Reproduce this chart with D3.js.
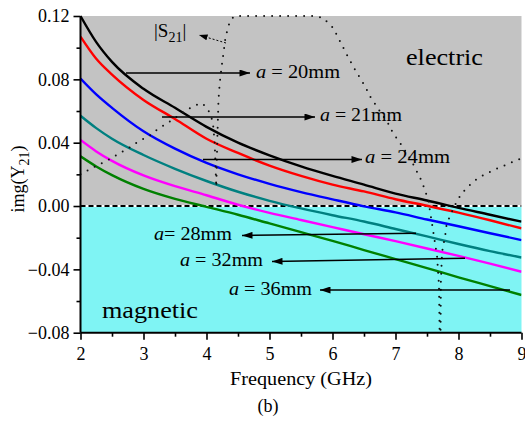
<!DOCTYPE html>
<html><head><meta charset="utf-8">
<script src="https://cdn.jsdelivr.net/npm/d3@7"></script>
<style>
html,body{margin:0;padding:0;background:#fff;}
svg{display:block;}
svg text{font-family:"Liberation Serif","Times New Roman",Times,"Nimbus Roman",serif !important;}
</style></head>
<body><svg id="c" width="525" height="422"></svg>
<script>
// ---- data ----
const freqs = [2, 2.25, 2.5, 3, 3.5, 4, 4.5, 5, 5.5, 6, 6.5, 7, 7.5, 8, 8.5, 9];
const a20 = [0.120, 0.1035, 0.091, 0.074, 0.062, 0.050, 0.040, 0.032, 0.025, 0.019, 0.0135, 0.0078, 0.0035, -0.0012, -0.0055, -0.0099];
const a21 = [0.107, 0.093, 0.083, 0.067, 0.055, 0.0425, 0.0335, 0.0255, 0.019, 0.0135, 0.0092, 0.0043, 0.0002, -0.0042, -0.009, -0.0141];
const a24 = [0.0805, 0.0705, 0.062, 0.0472, 0.0362, 0.0272, 0.020, 0.014, 0.0088, 0.0042, -0.0002, -0.004, -0.0085, -0.0128, -0.0172, -0.0215];
const a28 = [0.057, 0.0492, 0.0425, 0.0322, 0.0235, 0.0158, 0.009, 0.0033, -0.0015, -0.0058, -0.0098, -0.0145, -0.0192, -0.024, -0.0285, -0.0325];
const a32 = [0.0417, 0.0345, 0.0285, 0.0193, 0.0125, 0.0068, 0.0008, -0.0043, -0.0088, -0.0133, -0.0178, -0.0222, -0.0268, -0.0315, -0.0364, -0.0415];
const a36 = [0.0314, 0.025, 0.0195, 0.0108, 0.0045, -0.0005, -0.0055, -0.011, -0.0165, -0.022, -0.0278, -0.0335, -0.0392, -0.045, -0.0506, -0.0562];
const seriesNames = ["a = 20mm", "a = 21mm", "a = 24mm", "a= 28mm", "a = 32mm", "a = 36mm"];
const seriesColors = ["#000000", "#ff0000", "#0000ff", "#008080", "#ff00ff", "#008000"];

// |S21| (dotted) shown on the same axes, clipped at axis limits
const s21Freq = [2.0, 2.15, 2.31, 2.47, 2.62, 2.77, 2.93, 3.09, 3.23, 3.39, 3.55, 3.7, 3.85, 3.94, 4.04, 4.10, 4.13, 4.155, 4.17, 4.19, 4.21, 4.24, 4.27, 4.30, 4.34, 4.38, 4.45, 5.72, 5.85, 6.01, 6.12, 6.23, 6.36, 6.52, 6.6, 6.75, 6.88, 6.96, 7.12, 7.26, 7.42, 7.52, 7.57, 7.62, 7.66, 7.69, 7.70, 7.715, 7.72, 7.73, 7.74, 7.79, 7.81, 7.87, 7.97, 8.05, 8.18, 8.31, 8.47, 8.63, 8.79, 8.92, 9.0];
const s21Val  = [0.020, 0.0232, 0.0265, 0.0297, 0.0333, 0.0368, 0.0411, 0.0442, 0.0487, 0.0526, 0.057, 0.061, 0.064, 0.0649, 0.0596, 0.0533, 0.040, 0.012, 0.040, 0.067, 0.0777, 0.088, 0.0967, 0.106, 0.1125, 0.1175, 0.12, 0.12, 0.1188, 0.1125, 0.104, 0.0954, 0.0859, 0.0754, 0.069, 0.060, 0.0524, 0.0461, 0.037, 0.028, 0.0154, 0.0038, -0.0088, -0.0215, -0.032, -0.05, -0.08, -0.08, -0.0478, -0.038, -0.0289, -0.0183, -0.012, -0.0057, 0.0027, 0.008, 0.0133, 0.0177, 0.021, 0.024, 0.0265, 0.029, 0.030];

const xTicks = [2, 3, 4, 5, 6, 7, 8, 9];
const yTicks = [-0.08, -0.04, 0.00, 0.04, 0.08, 0.12];

// ---- layout ----
const svg = d3.select("#c");
const x = d3.scaleLinear().domain([2, 9]).range([80.5, 521.5]);
const y = d3.scaleLinear().domain([-0.08, 0.12]).range([332.7, 16]);

const defs = svg.append("defs");
defs.append("clipPath").attr("id", "clip")
  .append("rect").attr("x", x(2)).attr("y", y(0.12) - 2).attr("width", x(9) - x(2)).attr("height", y(-0.08) - y(0.12) + 4);
defs.append("marker").attr("id", "ah").attr("viewBox", "0 0 12 8").attr("refX", 12).attr("refY", 4)
  .attr("markerWidth", 12).attr("markerHeight", 7).attr("markerUnits", "userSpaceOnUse").attr("orient", "auto")
  .append("path").attr("d", "M0,0 L12,4 L0,8 Z").attr("fill", "#000");
defs.append("marker").attr("id", "ahs").attr("viewBox", "0 0 10 7").attr("refX", 10).attr("refY", 3.5)
  .attr("markerWidth", 9).attr("markerHeight", 6).attr("markerUnits", "userSpaceOnUse").attr("orient", "auto")
  .append("path").attr("d", "M0,0 L10,3.5 L0,7 Z").attr("fill", "#000");

// regions
svg.append("rect").attr("x", x(2)).attr("y", y(0.12)).attr("width", x(9) - x(2)).attr("height", y(0) - y(0.12)).attr("fill", "#c3c3c3");
svg.append("rect").attr("x", x(2)).attr("y", y(0)).attr("width", x(9) - x(2)).attr("height", y(-0.08) - y(0)).attr("fill", "#7ff4f4");

const plot = svg.append("g").attr("clip-path", "url(#clip)");

// zero line (black dashes on white)
plot.append("line").attr("x1", x(2)).attr("x2", x(9)).attr("y1", y(0)).attr("y2", y(0)).attr("stroke", "#fff").attr("stroke-width", 2);
plot.append("line").attr("x1", x(2)).attr("x2", x(9)).attr("y1", y(0)).attr("y2", y(0)).attr("stroke", "#000").attr("stroke-width", 2).attr("stroke-dasharray", "5,3");

// curves
const series = [a20, a21, a24, a28, a32, a36];
const line = d3.line().x(d => x(d[0])).y(d => y(d[1])).curve(d3.curveMonotoneX);
series.forEach((s, i) => {
  plot.append("path").datum(freqs.map((f, j) => [f, s[j]]))
    .attr("d", line).attr("fill", "none").attr("stroke", seriesColors[i]).attr("stroke-width", 2.4);
});

// dotted |S21|
const sline = d3.line().x(d => x(d[0])).y(d => y(Math.max(-0.08, Math.min(0.12, d[1])))).curve(d3.curveLinear);
plot.append("path").datum(s21Freq.map((f, j) => [f, s21Val[j]]))
  .attr("d", sline).attr("fill", "none").attr("stroke", "#111").attr("stroke-width", 2)
  .attr("stroke-linecap", "round").attr("stroke-dasharray", "0,8");

// axes
const axL = svg.append("g").attr("transform", `translate(${x(2)},0)`)
  .call(d3.axisLeft(y).tickValues(yTicks).tickFormat(d3.format(".2f")).tickSize(7).tickPadding(4));
const axLm = svg.append("g").attr("transform", `translate(${x(2)},0)`)
  .call(d3.axisLeft(y).tickValues(d3.range(-0.06, 0.12, 0.04)).tickFormat("").tickSize(4));
const axB = svg.append("g").attr("transform", `translate(0,${y(-0.08)})`)
  .call(d3.axisBottom(x).tickValues(xTicks).tickFormat(d3.format("d")).tickSize(7).tickPadding(8));
const axBm = svg.append("g").attr("transform", `translate(0,${y(-0.08)})`)
  .call(d3.axisBottom(x).tickValues(d3.range(2.5, 9, 1)).tickFormat("").tickSize(4));
[axL, axLm, axB, axBm].forEach(g => {
  g.attr("font-family", null);
  g.select(".domain").attr("stroke", "#000").attr("stroke-width", 2);
  g.selectAll(".tick line").attr("stroke", "#000").attr("stroke-width", 1.6);
  g.selectAll("text").attr("font-size", 18).attr("fill", "#000");
});
axL.select(".domain").attr("d", `M0,${y(0.12)}V${y(-0.08)}`);
axB.select(".domain").attr("d", `M${x(2)},0H${x(9)}`);
axLm.select(".domain").remove(); axBm.select(".domain").remove();

// annotation arrows
const arrows = [
  {x1: 126, y1: 73, x2: 250, y2: 73, tx: 256, ty: 78, w: 84},
  {x1: 162, y1: 117, x2: 315, y2: 117, tx: 320, ty: 121, w: 82},
  {x1: 203, y1: 159.5, x2: 362, y2: 159.5, tx: 365, ty: 163, w: 85},
  {x1: 416, y1: 233.3, x2: 242, y2: 235.5, tx: 154, ty: 240, w: 78},
  {x1: 465, y1: 258.3, x2: 272, y2: 261.5, tx: 180, ty: 266, w: 83},
  {x1: 510, y1: 290, x2: 320, y2: 290, tx: 229, ty: 295, w: 83}
];
arrows.forEach((a, i) => {
  svg.append("line").attr("x1", a.x1).attr("y1", a.y1).attr("x2", a.x2).attr("y2", a.y2)
    .attr("stroke", "#000").attr("stroke-width", 1.5).attr("marker-end", "url(#ah)");
  const name = seriesNames[i];
  const t = svg.append("text").attr("x", a.tx).attr("y", a.ty).attr("font-size", 18)
    .attr("textLength", a.w).attr("lengthAdjust", "spacingAndGlyphs").attr("fill", "#000");
  t.append("tspan").attr("font-style", "italic").text(name.slice(0, 1));
  t.append("tspan").text(name.slice(1));
});

// |S21| label + pointer
const sl = svg.append("text").attr("x", 154).attr("y", 37).attr("font-size", 19).attr("fill", "#000");
sl.append("tspan").text("|S");
sl.append("tspan").attr("font-size", 14).attr("dy", 5).text("21");
sl.append("tspan").attr("dy", -5).text("|");
svg.append("line").attr("x1", 226).attr("y1", 43).attr("x2", 199).attr("y2", 35)
  .attr("stroke", "#000").attr("stroke-width", 1).attr("stroke-dasharray", "2,2").attr("marker-end", "url(#ahs)");

// region labels
svg.append("text").attr("x", 406).attr("y", 65).attr("font-size", 23).attr("textLength", 77)
  .attr("lengthAdjust", "spacingAndGlyphs").text("electric");
svg.append("text").attr("x", 102).attr("y", 318).attr("font-size", 24).attr("textLength", 96)
  .attr("lengthAdjust", "spacingAndGlyphs").text("magnetic");

// axis titles
const yl = svg.append("text").attr("transform", "translate(24,179) rotate(-90)").attr("text-anchor", "middle").attr("font-size", 18);
yl.append("tspan").text("img(Y");
yl.append("tspan").attr("font-size", 14).attr("dy", 5).text("21");
yl.append("tspan").attr("dy", -5).text(")");
svg.append("text").attr("x", 301).attr("y", 385).attr("text-anchor", "middle").attr("font-size", 18)
  .attr("textLength", 142).attr("lengthAdjust", "spacingAndGlyphs").text("Frequency (GHz)");
svg.append("text").attr("x", 268).attr("y", 412).attr("text-anchor", "middle").attr("font-size", 18).text("(b)");
</script></body></html>
